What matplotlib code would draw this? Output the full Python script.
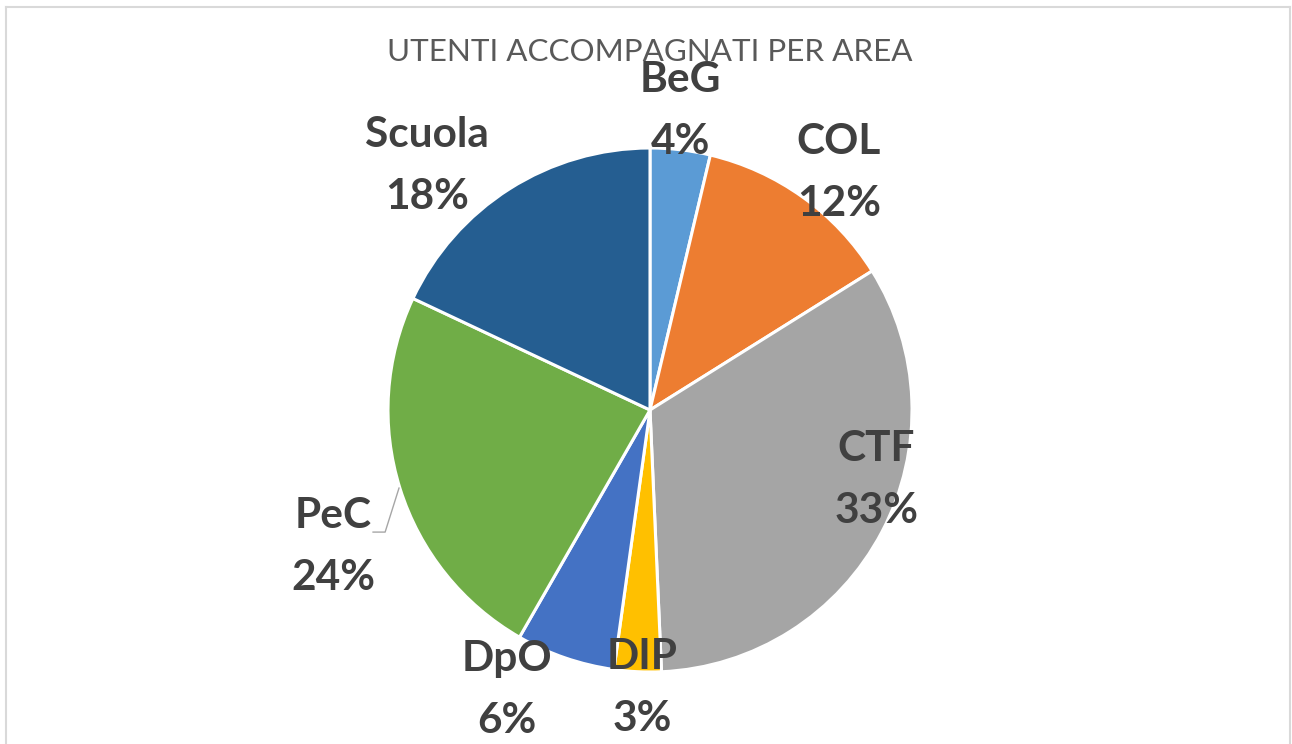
import matplotlib
matplotlib.use("Agg")
import matplotlib.pyplot as plt
from matplotlib.lines import Line2D

categories = ["BeG", "COL", "CTF", "DIP", "DpO", "PeC", "Scuola"]
values = [3.7, 12.4, 33.2, 2.9, 6.1, 23.7, 18.0]
pct_labels = ["4%", "12%", "33%", "3%", "6%", "24%", "18%"]
colors = ["#5B9BD5", "#ED7D31", "#A5A5A5", "#FFC000", "#4472C4", "#70AD47", "#255E91"]
title = "UTENTI ACCOMPAGNATI PER AREA"

# label positions (layout, in units of pie radius)
label_pos = [(0.115, 1.141), (0.721, 0.905), (0.863, -0.267), (-0.030, -1.061),
             (-0.546, -1.069), (-1.21, -0.523), (-0.851, 0.931)]

W, H = 1292, 744
fig = plt.figure(figsize=(W / 100, H / 100), dpi=100)
fig.patch.set_facecolor("white")

# chart border
bc = "#D9D9D9"
fig.add_artist(Line2D([6 / W, 6 / W], [0, 1 - 7 / H], transform=fig.transFigure, color=bc, lw=1.5))
fig.add_artist(Line2D([6 / W, 1290 / W], [1 - 7 / H, 1 - 7 / H], transform=fig.transFigure, color=bc, lw=1.5))
fig.add_artist(Line2D([1290 / W, 1290 / W], [0, 1 - 7 / H], transform=fig.transFigure, color=bc, lw=1.5))

cx, cy, r = 650, 410, 262
ax = fig.add_axes([(cx - r) / W, (H - cy - r) / H, 2 * r / W, 2 * r / H])
ax.pie(values, colors=colors, startangle=90, counterclock=False, radius=1,
       wedgeprops=dict(edgecolor="white", linewidth=2.2))
ax.set_xlim(-1, 1)
ax.set_ylim(-1, 1)
ax.set_aspect("equal")
ax.axis("off")

for cat, pct, (x, y) in zip(categories, pct_labels, label_pos):
    ax.text(x, y, f"{cat}\n{pct}", ha="center", va="center", fontsize=30.5,
            fontweight="bold", family="Lato", color="#404040", linespacing=1.78,
            clip_on=False)

# leader line for PeC
ax.plot([-1.057, -1.011, -0.958], [-0.466, -0.466, -0.298], color="#A6A6A6",
        lw=1, clip_on=False)

fig.text(650 / W, 1 - 52 / H, title, ha="center", va="center", fontsize=22.6,
         family="Lato", color="#595959")

fig.savefig("out.png", dpi=100, facecolor="white")
